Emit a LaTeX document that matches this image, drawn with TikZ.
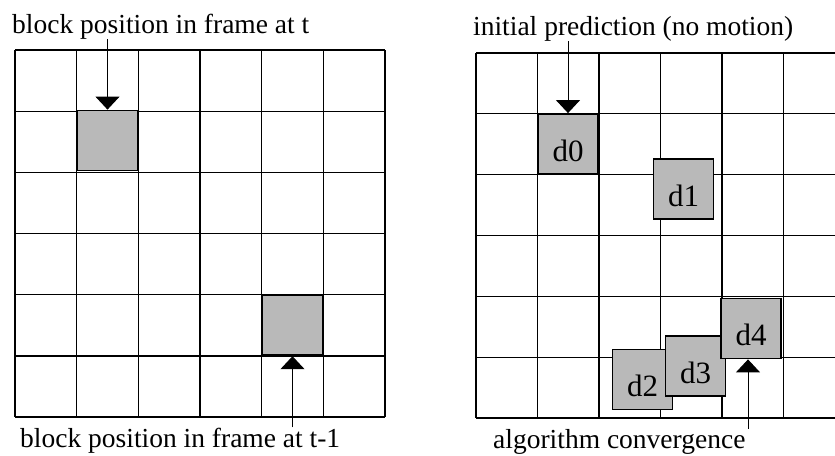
\documentclass[tikz,border=0pt]{standalone}
\usepackage{fontspec}
\setmainfont{Liberation Serif}
\usetikzlibrary{arrows.meta,positioning,calc}
\begin{document}
\begin{tikzpicture}[x=1pt, y=-1pt, every node/.style={font=\fontsize{27.5}{32}\selectfont, inner sep=0pt},
  cell/.style={line width=1.3pt},
  blk/.style={draw, line width=1.8pt, fill=gray!55, minimum width=60pt, minimum height=60pt, font=\fontsize{31}{36}\selectfont, text height=34pt, text depth=0pt},
  ptr/.style={line width=1pt, -{Triangle[width=24pt,length=13pt]}}]
\useasboundingbox (0,0) rectangle (835,455);
\foreach \i in {0,...,6} {
  \draw[cell] (15+\i*61.67,50) -- (15+\i*61.67,417);
  \draw[cell] (15,50+\i*61.17) -- (385,50+\i*61.17);
}
\foreach \i in {0,...,5} {
  \draw[cell] (476+\i*61.5,53) -- (476+\i*61.5,418);
}
\foreach \i in {0,...,6} {
  \draw[cell] (476,53+\i*60.83) -- (835,53+\i*60.83);
}
\node[blk] (bt) at (107.5,140.5) {};
\node[blk] (bt1) at (292.5,325.3) {};
\node[anchor=base west] (lt) at (12,33) {block position in frame at t};
\node[anchor=base west] (lt1) at (20,447) {block position in frame at t-1};
\draw[ptr] (lt.south -| bt.north) -- (bt.north);
\draw[ptr] (lt1.north -| bt1.south) -- (bt1.south);
\node[blk] (d0) at (568,144) {d0};
\node[blk] (d1) at (683.5,189) {d1};
\node[blk] (d2) at (642.5,379.5) {d2};
\node[blk] (d3) at (695.5,366) {d3};
\node[blk] (d4) at (751,328.5) {d4};
\node[anchor=base west] (lp) at (473,35) {initial prediction (no motion)};
\node[anchor=base west] (lc) at (493,448) {algorithm convergence};
\draw[ptr] (lp.south -| d0.north) -- (d0.north);
\draw[ptr] ([xshift=-3pt]lc.north -| d4.south) -- ([xshift=-3pt]d4.south);
\end{tikzpicture}
\end{document}
